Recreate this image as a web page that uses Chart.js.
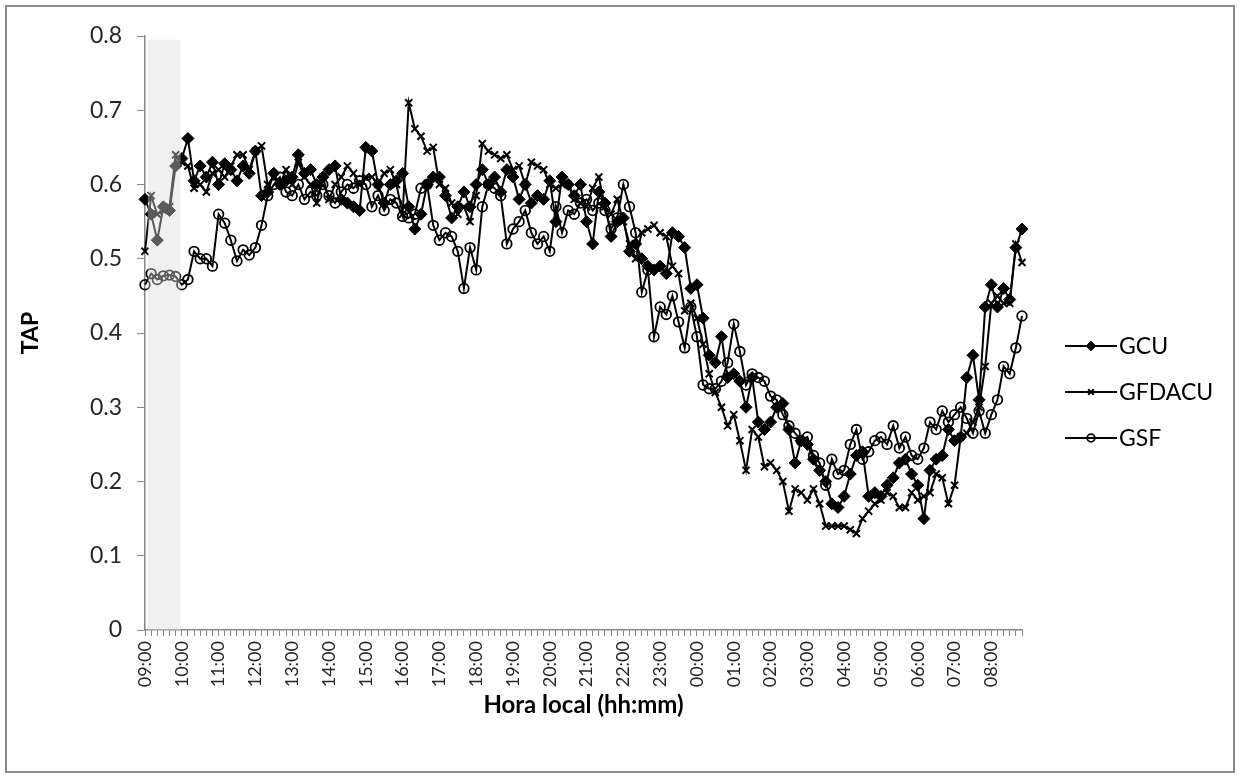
<!DOCTYPE html>
<html>
<head>
<meta charset="utf-8">
<script src="https://cdn.jsdelivr.net/npm/chart.js@4.4.1/dist/chart.umd.min.js"></script>
<style>
  html, body { margin: 0; padding: 0; background: #ffffff; }
  canvas { display: block; }
</style>
</head>
<body>
<canvas id="tapChart" width="1240" height="778"></canvas>
<script>
// Sampling: every 10 minutes from 09:00 to 08:50 of the following day
const startHour = 9;
const stepMinutes = 10;
const sampleCount = 144;
const times = [];
for (let k = 0; k < sampleCount; k++) {
  const m = (startHour * 60 + k * stepMinutes) % 1440;
  times.push(String(Math.floor(m / 60)).padStart(2, '0') + ':' + String(m % 60).padStart(2, '0'));
}

// Hour labels shown on the time axis
const hourLabels = ['09:00','10:00','11:00','12:00','13:00','14:00','15:00','16:00',
  '17:00','18:00','19:00','20:00','21:00','22:00','23:00','00:00','01:00','02:00',
  '03:00','04:00','05:00','06:00','07:00','08:00'];

// TAP axis labels
const yTickLabels = ['0','0.1','0.2','0.3','0.4','0.5','0.6','0.7','0.8'];

const seriesNames = ['GCU', 'GFDACU', 'GSF'];

// One row per hour (six 10-minute samples)
const gcu = [
  0.58, 0.56, 0.525, 0.57, 0.565, 0.625,
  0.635, 0.662, 0.605, 0.625, 0.61, 0.63,
  0.60, 0.628, 0.62, 0.605, 0.625, 0.615,
  0.645, 0.585, 0.59, 0.615, 0.60, 0.605,
  0.61, 0.64, 0.615, 0.62, 0.60, 0.61,
  0.62, 0.625, 0.58, 0.575, 0.57, 0.565,
  0.65, 0.645, 0.60, 0.575, 0.60, 0.605,
  0.615, 0.57, 0.54, 0.56, 0.60, 0.61,
  0.61, 0.585, 0.555, 0.57, 0.59, 0.57,
  0.60, 0.62, 0.60, 0.61, 0.59, 0.62,
  0.61, 0.58, 0.60, 0.575, 0.585, 0.58,
  0.605, 0.55, 0.61, 0.60, 0.585, 0.60,
  0.55, 0.52, 0.59, 0.575, 0.53, 0.55,
  0.555, 0.51, 0.52, 0.50, 0.49, 0.485,
  0.49, 0.48, 0.535, 0.53, 0.515, 0.46,
  0.465, 0.42, 0.37, 0.36, 0.395, 0.34,
  0.345, 0.335, 0.30, 0.34, 0.28, 0.27,
  0.28, 0.30, 0.305, 0.27, 0.225, 0.255,
  0.25, 0.23, 0.215, 0.20, 0.17, 0.165,
  0.18, 0.21, 0.235, 0.24, 0.18, 0.185,
  0.18, 0.195, 0.205, 0.225, 0.23, 0.21,
  0.195, 0.15, 0.215, 0.23, 0.235, 0.27,
  0.255, 0.26, 0.34, 0.37, 0.31, 0.435,
  0.465, 0.435, 0.46, 0.445, 0.515, 0.54
];

const gfdacu = [
  0.51, 0.585, 0.56, 0.565, 0.57, 0.64,
  0.63, 0.625, 0.595, 0.60, 0.59, 0.615,
  0.62, 0.61, 0.625, 0.64, 0.64, 0.62,
  0.645, 0.652, 0.60, 0.61, 0.60, 0.62,
  0.60, 0.63, 0.61, 0.60, 0.575, 0.61,
  0.58, 0.60, 0.61, 0.625, 0.615, 0.60,
  0.61, 0.61, 0.60, 0.615, 0.62, 0.60,
  0.56, 0.71, 0.675, 0.665, 0.645, 0.65,
  0.60, 0.595, 0.575, 0.56, 0.57, 0.55,
  0.585, 0.655, 0.645, 0.64, 0.635, 0.64,
  0.62, 0.625, 0.60, 0.63, 0.625, 0.62,
  0.60, 0.595, 0.60, 0.60, 0.58, 0.575,
  0.57, 0.595, 0.61, 0.57, 0.56, 0.58,
  0.55, 0.52, 0.50, 0.535, 0.54, 0.545,
  0.535, 0.53, 0.49, 0.48, 0.43, 0.44,
  0.42, 0.385, 0.345, 0.32, 0.30, 0.275,
  0.29, 0.255, 0.215, 0.27, 0.26, 0.22,
  0.225, 0.215, 0.20, 0.16, 0.19, 0.185,
  0.175, 0.19, 0.17, 0.14, 0.14, 0.14,
  0.14, 0.135, 0.13, 0.15, 0.16, 0.17,
  0.175, 0.185, 0.18, 0.165, 0.165, 0.185,
  0.175, 0.18, 0.185, 0.21, 0.205, 0.17,
  0.195, 0.26, 0.265, 0.28, 0.30, 0.355,
  0.44, 0.45, 0.44, 0.44, 0.52, 0.495
];

const gsf = [
  0.465, 0.48, 0.472, 0.477, 0.478, 0.476,
  0.465, 0.472, 0.51, 0.50, 0.50, 0.49,
  0.56, 0.548, 0.525, 0.497, 0.512, 0.505,
  0.515, 0.545, 0.585, 0.60, 0.61, 0.59,
  0.585, 0.60, 0.58, 0.59, 0.585, 0.60,
  0.585, 0.575, 0.59, 0.60, 0.595, 0.605,
  0.60, 0.57, 0.585, 0.565, 0.58, 0.575,
  0.557, 0.555, 0.56, 0.595, 0.60, 0.545,
  0.525, 0.535, 0.53, 0.51, 0.46, 0.515,
  0.485, 0.57, 0.60, 0.595, 0.585, 0.52,
  0.54, 0.55, 0.565, 0.535, 0.52, 0.53,
  0.51, 0.57, 0.535, 0.565, 0.56, 0.575,
  0.58, 0.565, 0.575, 0.565, 0.54, 0.555,
  0.60, 0.57, 0.535, 0.455, 0.485, 0.395,
  0.435, 0.425, 0.45, 0.415, 0.38, 0.435,
  0.395, 0.33, 0.325, 0.325, 0.335, 0.36,
  0.412, 0.375, 0.33, 0.345, 0.34, 0.335,
  0.315, 0.31, 0.29, 0.275, 0.265, 0.255,
  0.26, 0.235, 0.225, 0.195, 0.23, 0.21,
  0.215, 0.25, 0.27, 0.23, 0.24, 0.255,
  0.26, 0.25, 0.275, 0.245, 0.26, 0.235,
  0.23, 0.245, 0.28, 0.27, 0.295, 0.28,
  0.29, 0.30, 0.285, 0.265, 0.295, 0.265,
  0.29, 0.31, 0.355, 0.345, 0.38, 0.423
];

const FONT = 'Lato, "Open Sans", sans-serif';
const AXIS_GRAY = '#868686';
const TEXT = '#262626';

// Translucent band over the first hour, painted above the lines
const shadeBand = {
  id: 'shadeBand',
  afterDatasetsDraw(chart, args, opts) {
    const { ctx, scales: { x, y } } = chart;
    const x0 = x.getPixelForValue(opts.from);
    const x1 = x.getPixelForValue(opts.to);
    const y0 = y.getPixelForValue(opts.top);
    const y1 = y.getPixelForValue(0);
    ctx.save();
    ctx.fillStyle = opts.color;
    ctx.fillRect(x0, y0, x1 - x0, y1 - y0);
    ctx.restore();
  }
};

// Frame around the whole figure
const outerFrame = {
  id: 'outerFrame',
  afterDraw(chart) {
    const ctx = chart.ctx;
    ctx.save();
    ctx.strokeStyle = '#8a8a8a';
    ctx.lineWidth = 2;
    ctx.strokeRect(6, 6, chart.width - 12, chart.height - 12);
    ctx.restore();
  }
};

// Legend drawn as line + marker samples to the right of the plot
const lineLegend = {
  id: 'lineLegend',
  afterDraw(chart, args, opts) {
    const ctx = chart.ctx;
    ctx.save();
    chart.data.datasets.forEach((ds, i) => {
      const yc = opts.y + i * opts.gap;
      ctx.strokeStyle = '#000';
      ctx.lineWidth = ds.borderWidth;
      ctx.beginPath();
      ctx.moveTo(opts.x, yc);
      ctx.lineTo(opts.x + opts.lineLength, yc);
      ctx.stroke();
      ctx.fillStyle = ds.pointBackgroundColor;
      ctx.strokeStyle = ds.pointBorderColor;
      ctx.lineWidth = ds.pointBorderWidth;
      Chart.helpers.drawPoint(ctx, {
        pointStyle: ds.pointStyle, rotation: 0,
        radius: ds.pointRadius * 0.8, borderWidth: ds.pointBorderWidth
      }, opts.x + opts.lineLength / 2, yc);
      ctx.fillStyle = '#000';
      ctx.font = opts.font;
      ctx.textAlign = 'left';
      ctx.textBaseline = 'middle';
      ctx.fillText(ds.label, opts.x + opts.lineLength + 2, yc + 1);
    });
    ctx.restore();
  }
};

function build() {
  const ctx = document.getElementById('tapChart').getContext('2d');
  new Chart(ctx, {
    type: 'line',
    data: {
      labels: times,
      datasets: [
        {
          label: seriesNames[0], data: gcu, order: 3,
          borderColor: '#000', borderWidth: 2,
          pointStyle: 'rectRot', pointRadius: 6, pointBorderWidth: 1,
          pointBackgroundColor: '#000', pointBorderColor: '#000'
        },
        {
          label: seriesNames[1], data: gfdacu, order: 2,
          borderColor: '#000', borderWidth: 2,
          pointStyle: 'crossRot', pointRadius: 5, pointBorderWidth: 2,
          pointBackgroundColor: '#000', pointBorderColor: '#000'
        },
        {
          label: seriesNames[2], data: gsf, order: 1,
          borderColor: '#000', borderWidth: 2,
          pointStyle: 'circle', pointRadius: 4.8, pointBorderWidth: 1.8,
          pointBackgroundColor: 'rgba(255,255,255,0)', pointBorderColor: '#000'
        }
      ]
    },
    options: {
      responsive: false,
      animation: false,
      events: [],
      layout: { padding: { left: 0, top: 36, right: 218, bottom: 0 } },
      elements: { line: { tension: 0 }, point: { hoverRadius: 0 } },
      plugins: {
        legend: { display: false },
        tooltip: { enabled: false },
        shadeBand: { from: 0.45, to: 5.8, top: 0.795, color: 'rgba(219,219,219,0.41)' },
        lineLegend: { x: 1065, y: 346, gap: 46, lineLength: 52, font: '23px ' + FONT }
      },
      scales: {
        x: {
          type: 'category',
          offset: false,
          afterFit(scale) { scale.height = 148; },
          border: { display: true, color: AXIS_GRAY, width: 1.5 },
          grid: { display: true, drawOnChartArea: false, drawTicks: true, tickLength: 6, color: AXIS_GRAY, offset: false },
          ticks: {
            autoSkip: false, minRotation: 90, maxRotation: 90, padding: 5,
            color: TEXT, font: { family: FONT, size: 18 },
            callback(value) {
              const t = this.getLabelForValue(value);
              return hourLabels.includes(t) ? t : '';
            }
          },
          title: {
            display: true, text: 'Hora local (hh:mm)', color: '#000',
            font: { family: FONT, size: 24, weight: 'bold' },
            padding: { top: 0, bottom: 58 }
          }
        },
        y: {
          min: 0, max: 0.8,
          afterFit(scale) { scale.width = 145; },
          border: { display: true, color: AXIS_GRAY, width: 1.5 },
          grid: { display: true, drawOnChartArea: false, drawTicks: true, tickLength: 8, color: AXIS_GRAY },
          ticks: {
            stepSize: 0.1, padding: 15, color: TEXT,
            font: { family: FONT, size: 23 },
            callback(value, index) { return yTickLabels[index]; }
          },
          title: {
            display: true, text: 'TAP', color: '#000',
            font: { family: FONT, size: 23, weight: 'bold' },
            padding: { top: 17, bottom: 0 }
          }
        }
      }
    },
    plugins: [shadeBand, lineLegend, outerFrame]
  });
}

Promise.all([
  document.fonts.load('23px Lato'),
  document.fonts.load('bold 24px Lato')
]).then(build, build);
</script>
</body>
</html>
